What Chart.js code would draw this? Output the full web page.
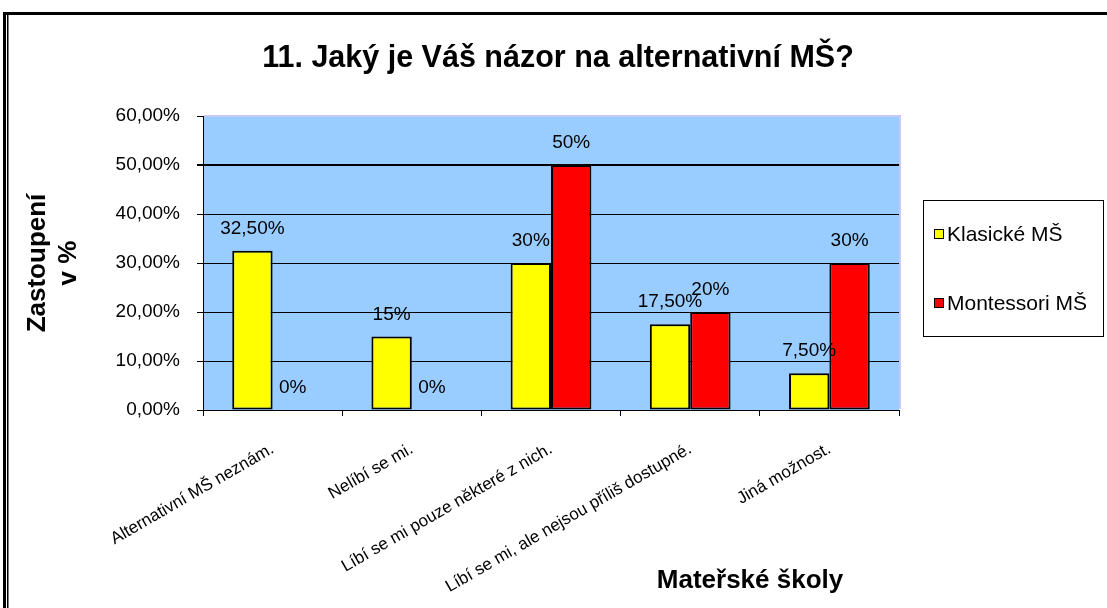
<!DOCTYPE html>
<html>
<head>
<meta charset="utf-8">
<title>11. Jaký je Váš názor na alternativní MŠ?</title>
<script src="https://cdn.jsdelivr.net/npm/chart.js@4.4.0/dist/chart.umd.min.js"></script>
<style>
  html, body { margin: 0; padding: 0; background: #fff; }
  #chart { display: block; }
</style>
</head>
<body>
<canvas id="chart" width="1107" height="608"></canvas>
<script>
// Chart texts and values
const chartTitle = '11. Jaký je Váš názor na alternativní MŠ?';
const categories = [
  'Alternativní MŠ neznám.',
  'Nelíbí se mi.',
  'Líbí se mi pouze některé z nich.',
  'Líbí se mi, ale nejsou příliš dostupné.',
  'Jiná možnost.'
];
const seriesNames = ['Klasické MŠ', 'Montessori MŠ'];
const klasickeValues = [32.5, 15, 30, 17.5, 7.5];
const montessoriValues = [0, 0, 50, 20, 30];
const klasickeLabels = ['32,50%', '15%', '30%', '17,50%', '7,50%'];
const montessoriLabels = ['0%', '0%', '50%', '20%', '30%'];
const yTickLabels = ['0,00%', '10,00%', '20,00%', '30,00%', '40,00%', '50,00%', '60,00%'];
const yTitle = ['Zastoupení', 'v %'];
const xTitle = 'Mateřské školy';

const FONT = 'Liberation Sans, Arial, Helvetica, sans-serif';
Chart.defaults.font.family = FONT;
Chart.defaults.color = '#000';

// Excel-like frame, plot background, data labels, legend and axis title
const excelLook = {
  id: 'excelLook',
  beforeDraw(chart) {
    const { ctx, chartArea: a } = chart;
    ctx.save();
    ctx.fillStyle = '#fff';
    ctx.fillRect(0, 0, chart.width, chart.height);
    // plot area
    ctx.fillStyle = '#99CCFF';
    ctx.fillRect(a.left, a.top, a.right - a.left, a.bottom - a.top);
    // outer frame
    ctx.fillStyle = '#000';
    ctx.fillRect(3, 12, chart.width - 3, 3);
    ctx.fillRect(3, 12, 3, chart.height - 12);
    ctx.fillRect(7, 14, 1.5, chart.height - 14);
    // title
    ctx.font = 'bold 30.5px ' + FONT;
    ctx.textAlign = 'center';
    ctx.textBaseline = 'alphabetic';
    ctx.fillText(chartTitle, 558, 67);
    ctx.restore();
  },
  afterDraw(chart) {
    const { ctx, chartArea: a } = chart;
    ctx.save();
    // light border on top / right of plot area
    ctx.fillStyle = '#C8C8F6';
    ctx.fillRect(a.left + 1, a.top - 1, a.right - a.left + 1, 2);
    ctx.fillRect(a.right, a.top - 1, 2, a.bottom - a.top);

    // data labels
    const labelSets = [klasickeLabels, montessoriLabels];
    ctx.font = '19px ' + FONT;
    ctx.fillStyle = '#000';
    ctx.textAlign = 'center';
    ctx.textBaseline = 'middle';
    chart.data.datasets.forEach((ds, i) => {
      chart.getDatasetMeta(i).data.forEach((bar, j) => {
        ctx.fillText(labelSets[i][j], bar.x, bar.y - 22);
      });
    });

    // legend
    ctx.strokeStyle = '#000';
    ctx.lineWidth = 1;
    ctx.strokeRect(923.5, 200.5, 180, 136);
    ctx.font = '21px ' + FONT;
    ctx.textAlign = 'left';
    chart.data.datasets.forEach((ds, i) => {
      const y = 234 + i * 69;
      ctx.fillStyle = ds.backgroundColor;
      ctx.fillRect(934, y - 5, 10, 10);
      ctx.strokeRect(934.5, y - 4.5, 9, 9);
      ctx.fillStyle = '#000';
      ctx.fillText(ds.label, 947, y + 1);
    });

    // x axis title
    ctx.font = 'bold 26px ' + FONT;
    ctx.textAlign = 'center';
    ctx.fillText(xTitle, 750, 581);
    ctx.restore();
  }
};

const ctx = document.getElementById('chart').getContext('2d');
new Chart(ctx, {
  type: 'bar',
  data: {
    labels: categories,
    datasets: [
      {
        label: seriesNames[0],
        data: klasickeValues,
        backgroundColor: '#FFFF00',
        borderColor: '#000',
        borderWidth: 2,
        borderSkipped: false
      },
      {
        label: seriesNames[1],
        data: montessoriValues,
        backgroundColor: '#FF0000',
        borderColor: '#000',
        borderWidth: 2,
        borderSkipped: false
      }
    ]
  },
  options: {
    responsive: false,
    devicePixelRatio: 1,
    animation: false,
    layout: { padding: { top: 116, right: 208, left: 0, bottom: 0 } },
    datasets: {
      bar: { categoryPercentage: 0.58, barPercentage: 1 }
    },
    plugins: {
      legend: { display: false },
      title: { display: false },
      tooltip: { enabled: false }
    },
    scales: {
      x: {
        grid: {
          offset: true,
          drawOnChartArea: false,
          color: '#000',
          tickLength: 6
        },
        border: { color: '#000', width: 1 },
        ticks: {
          autoSkip: false,
          minRotation: 30,
          maxRotation: 30,
          padding: 23,
          font: { size: 17 },
          color: '#000'
        },
        afterFit: s => { s.height = 198; }
      },
      y: {
        min: 0,
        max: 60,
        ticks: {
          stepSize: 10,
          padding: 17,
          font: { size: 19 },
          color: '#000',
          callback: (value, index) => yTickLabels[index]
        },
        grid: {
          color: c => (c.tick && c.tick.value === 60 ? 'rgba(0,0,0,0)' : '#000'),
          lineWidth: c => (c.tick && c.tick.value === 50 ? 2 : 1),
          tickColor: '#000',
          tickLength: 6
        },
        border: { color: '#000', width: 1 },
        title: {
          display: true,
          text: yTitle,
          font: { size: 26, weight: 'bold', lineHeight: 1.2 },
          color: '#000',
          padding: { top: 22, bottom: 0 }
        },
        afterFit: s => { s.width = 203; }
      }
    }
  },
  plugins: [excelLook]
});
</script>
</body>
</html>
